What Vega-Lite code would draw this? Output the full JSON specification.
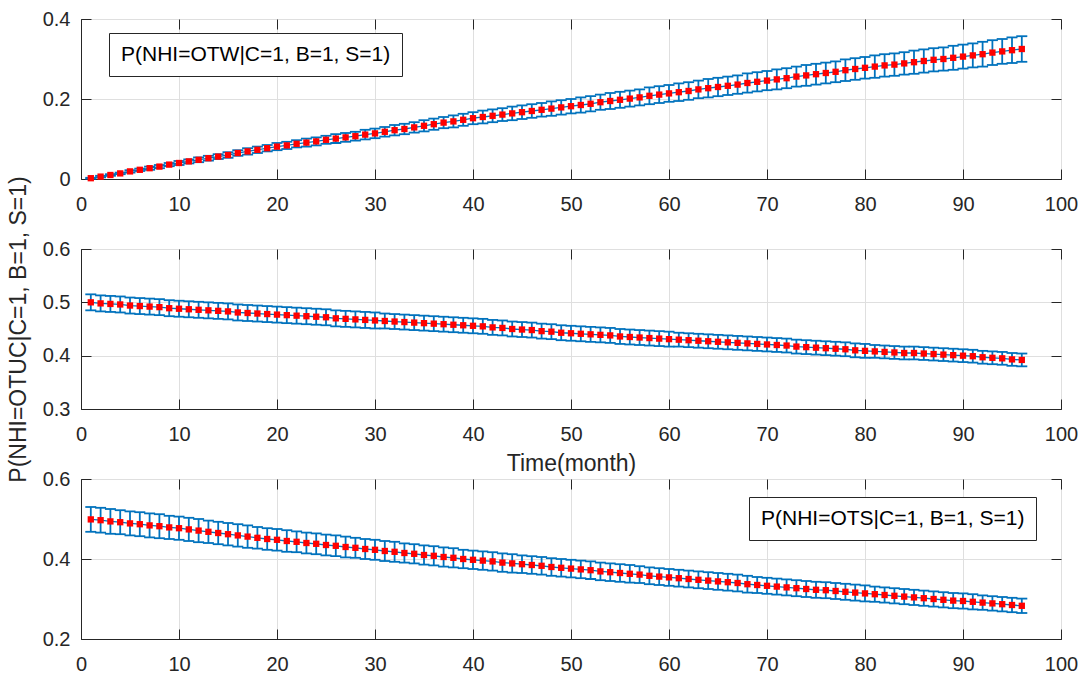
{
  "$schema": "https://vega.github.io/schema/vega-lite/v6.json",
  "background": "white",
  "padding": {"left": 6, "top": 8, "right": 5, "bottom": 0},
  "config": {
    "font": "Liberation Sans",
    "view": {"stroke": "#262626", "strokeWidth": 1},
    "axis": {
      "labelFont": "Liberation Sans", "labelFontSize": 20, "labelColor": "#262626",
      "titleFont": "Liberation Sans", "titleFontSize": 23, "titleFontWeight": "normal", "titleColor": "#262626",
      "domainColor": "#262626", "tickColor": "#262626", "gridColor": "#dfdfdf",
      "labelFlush": false, "labelOverlap": false, "tickSize": -10
    },
    "legend": {
      "labelFont": "Liberation Sans", "labelFontSize": 21, "labelColor": "#000000", "labelLimit": 0,
      "symbolSize": 0, "symbolOpacity": 0, "symbolStrokeWidth": 0, "labelOffset": 0,
      "padding": 11, "strokeColor": "#262626", "fillColor": "white"
    }
  },
  "datasets": {
    "p1": [
      {"m":1,"v":0.002,"e":0.001},{"m":2,"v":0.006,"e":0.002},{"m":3,"v":0.010,"e":0.002},{"m":4,"v":0.014,"e":0.002},{"m":5,"v":0.019,"e":0.003},
      {"m":6,"v":0.023,"e":0.003},{"m":7,"v":0.027,"e":0.004},{"m":8,"v":0.031,"e":0.004},{"m":9,"v":0.036,"e":0.004},{"m":10,"v":0.040,"e":0.005},
      {"m":11,"v":0.044,"e":0.005},{"m":12,"v":0.048,"e":0.006},{"m":13,"v":0.052,"e":0.006},{"m":14,"v":0.056,"e":0.006},{"m":15,"v":0.060,"e":0.007},
      {"m":16,"v":0.065,"e":0.007},{"m":17,"v":0.069,"e":0.008},{"m":18,"v":0.073,"e":0.008},{"m":19,"v":0.077,"e":0.008},{"m":20,"v":0.081,"e":0.009},
      {"m":21,"v":0.084,"e":0.009},{"m":22,"v":0.088,"e":0.009},{"m":23,"v":0.091,"e":0.010},{"m":24,"v":0.094,"e":0.010},{"m":25,"v":0.098,"e":0.010},
      {"m":26,"v":0.101,"e":0.011},{"m":27,"v":0.104,"e":0.011},{"m":28,"v":0.107,"e":0.011},{"m":29,"v":0.111,"e":0.012},{"m":30,"v":0.114,"e":0.012},
      {"m":31,"v":0.118,"e":0.012},{"m":32,"v":0.122,"e":0.013},{"m":33,"v":0.125,"e":0.013},{"m":34,"v":0.129,"e":0.013},{"m":35,"v":0.133,"e":0.014},
      {"m":36,"v":0.137,"e":0.014},{"m":37,"v":0.141,"e":0.014},{"m":38,"v":0.144,"e":0.015},{"m":39,"v":0.148,"e":0.015},{"m":40,"v":0.152,"e":0.015},
      {"m":41,"v":0.155,"e":0.016},{"m":42,"v":0.158,"e":0.016},{"m":43,"v":0.161,"e":0.016},{"m":44,"v":0.164,"e":0.017},{"m":45,"v":0.167,"e":0.017},
      {"m":46,"v":0.170,"e":0.017},{"m":47,"v":0.173,"e":0.017},{"m":48,"v":0.176,"e":0.018},{"m":49,"v":0.179,"e":0.018},{"m":50,"v":0.182,"e":0.018},
      {"m":51,"v":0.185,"e":0.019},{"m":52,"v":0.188,"e":0.019},{"m":53,"v":0.192,"e":0.019},{"m":54,"v":0.195,"e":0.020},{"m":55,"v":0.198,"e":0.020},
      {"m":56,"v":0.201,"e":0.020},{"m":57,"v":0.204,"e":0.020},{"m":58,"v":0.208,"e":0.021},{"m":59,"v":0.211,"e":0.021},{"m":60,"v":0.214,"e":0.021},
      {"m":61,"v":0.217,"e":0.022},{"m":62,"v":0.220,"e":0.022},{"m":63,"v":0.224,"e":0.022},{"m":64,"v":0.227,"e":0.023},{"m":65,"v":0.230,"e":0.023},
      {"m":66,"v":0.233,"e":0.023},{"m":67,"v":0.236,"e":0.023},{"m":68,"v":0.240,"e":0.024},{"m":69,"v":0.243,"e":0.024},{"m":70,"v":0.246,"e":0.024},
      {"m":71,"v":0.249,"e":0.025},{"m":72,"v":0.252,"e":0.025},{"m":73,"v":0.256,"e":0.025},{"m":74,"v":0.259,"e":0.026},{"m":75,"v":0.262,"e":0.026},
      {"m":76,"v":0.265,"e":0.026},{"m":77,"v":0.268,"e":0.026},{"m":78,"v":0.272,"e":0.027},{"m":79,"v":0.275,"e":0.027},{"m":80,"v":0.278,"e":0.027},
      {"m":81,"v":0.281,"e":0.028},{"m":82,"v":0.284,"e":0.028},{"m":83,"v":0.286,"e":0.028},{"m":84,"v":0.289,"e":0.028},{"m":85,"v":0.292,"e":0.029},
      {"m":86,"v":0.295,"e":0.029},{"m":87,"v":0.298,"e":0.029},{"m":88,"v":0.300,"e":0.029},{"m":89,"v":0.303,"e":0.030},{"m":90,"v":0.306,"e":0.030},
      {"m":91,"v":0.309,"e":0.030},{"m":92,"v":0.312,"e":0.031},{"m":93,"v":0.316,"e":0.031},{"m":94,"v":0.319,"e":0.031},{"m":95,"v":0.322,"e":0.032},
      {"m":96,"v":0.325,"e":0.032}
    ],
    "p2": [
      {"m":1,"v":0.500,"e":0.015},{"m":2,"v":0.498,"e":0.015},{"m":3,"v":0.497,"e":0.015},{"m":4,"v":0.496,"e":0.015},{"m":5,"v":0.494,"e":0.015},
      {"m":6,"v":0.493,"e":0.015},{"m":7,"v":0.492,"e":0.015},{"m":8,"v":0.491,"e":0.015},{"m":9,"v":0.489,"e":0.015},{"m":10,"v":0.488,"e":0.015},
      {"m":11,"v":0.487,"e":0.015},{"m":12,"v":0.486,"e":0.015},{"m":13,"v":0.485,"e":0.015},{"m":14,"v":0.484,"e":0.015},{"m":15,"v":0.483,"e":0.015},
      {"m":16,"v":0.481,"e":0.015},{"m":17,"v":0.480,"e":0.015},{"m":18,"v":0.479,"e":0.015},{"m":19,"v":0.478,"e":0.015},{"m":20,"v":0.477,"e":0.015},
      {"m":21,"v":0.476,"e":0.015},{"m":22,"v":0.475,"e":0.015},{"m":23,"v":0.474,"e":0.015},{"m":24,"v":0.473,"e":0.015},{"m":25,"v":0.472,"e":0.015},
      {"m":26,"v":0.470,"e":0.015},{"m":27,"v":0.469,"e":0.015},{"m":28,"v":0.468,"e":0.015},{"m":29,"v":0.467,"e":0.015},{"m":30,"v":0.466,"e":0.015},
      {"m":31,"v":0.465,"e":0.014},{"m":32,"v":0.464,"e":0.014},{"m":33,"v":0.463,"e":0.014},{"m":34,"v":0.462,"e":0.014},{"m":35,"v":0.461,"e":0.014},
      {"m":36,"v":0.460,"e":0.014},{"m":37,"v":0.459,"e":0.014},{"m":38,"v":0.458,"e":0.014},{"m":39,"v":0.457,"e":0.014},{"m":40,"v":0.456,"e":0.014},
      {"m":41,"v":0.455,"e":0.014},{"m":42,"v":0.453,"e":0.014},{"m":43,"v":0.452,"e":0.014},{"m":44,"v":0.450,"e":0.014},{"m":45,"v":0.449,"e":0.014},
      {"m":46,"v":0.448,"e":0.014},{"m":47,"v":0.446,"e":0.014},{"m":48,"v":0.445,"e":0.014},{"m":49,"v":0.443,"e":0.014},{"m":50,"v":0.442,"e":0.014},
      {"m":51,"v":0.441,"e":0.014},{"m":52,"v":0.440,"e":0.014},{"m":53,"v":0.439,"e":0.014},{"m":54,"v":0.438,"e":0.014},{"m":55,"v":0.436,"e":0.014},
      {"m":56,"v":0.435,"e":0.014},{"m":57,"v":0.434,"e":0.014},{"m":58,"v":0.433,"e":0.014},{"m":59,"v":0.432,"e":0.014},{"m":60,"v":0.431,"e":0.014},
      {"m":61,"v":0.430,"e":0.013},{"m":62,"v":0.429,"e":0.013},{"m":63,"v":0.428,"e":0.013},{"m":64,"v":0.427,"e":0.013},{"m":65,"v":0.426,"e":0.013},
      {"m":66,"v":0.425,"e":0.013},{"m":67,"v":0.424,"e":0.013},{"m":68,"v":0.423,"e":0.013},{"m":69,"v":0.422,"e":0.013},{"m":70,"v":0.421,"e":0.013},
      {"m":71,"v":0.420,"e":0.013},{"m":72,"v":0.419,"e":0.013},{"m":73,"v":0.417,"e":0.013},{"m":74,"v":0.416,"e":0.013},{"m":75,"v":0.415,"e":0.013},
      {"m":76,"v":0.414,"e":0.013},{"m":77,"v":0.413,"e":0.013},{"m":78,"v":0.412,"e":0.013},{"m":79,"v":0.410,"e":0.013},{"m":80,"v":0.409,"e":0.013},
      {"m":81,"v":0.408,"e":0.012},{"m":82,"v":0.407,"e":0.012},{"m":83,"v":0.406,"e":0.012},{"m":84,"v":0.405,"e":0.012},{"m":85,"v":0.405,"e":0.012},
      {"m":86,"v":0.404,"e":0.012},{"m":87,"v":0.403,"e":0.012},{"m":88,"v":0.402,"e":0.012},{"m":89,"v":0.401,"e":0.012},{"m":90,"v":0.400,"e":0.012},
      {"m":91,"v":0.399,"e":0.012},{"m":92,"v":0.397,"e":0.012},{"m":93,"v":0.396,"e":0.012},{"m":94,"v":0.395,"e":0.012},{"m":95,"v":0.393,"e":0.012},
      {"m":96,"v":0.392,"e":0.012}
    ],
    "p3": [
      {"m":1,"v":0.499,"e":0.031},{"m":2,"v":0.497,"e":0.031},{"m":3,"v":0.494,"e":0.031},{"m":4,"v":0.492,"e":0.030},{"m":5,"v":0.489,"e":0.030},
      {"m":6,"v":0.487,"e":0.030},{"m":7,"v":0.484,"e":0.030},{"m":8,"v":0.482,"e":0.030},{"m":9,"v":0.479,"e":0.029},{"m":10,"v":0.477,"e":0.029},
      {"m":11,"v":0.474,"e":0.029},{"m":12,"v":0.471,"e":0.029},{"m":13,"v":0.468,"e":0.028},{"m":14,"v":0.465,"e":0.028},{"m":15,"v":0.462,"e":0.028},
      {"m":16,"v":0.459,"e":0.028},{"m":17,"v":0.456,"e":0.028},{"m":18,"v":0.453,"e":0.027},{"m":19,"v":0.450,"e":0.027},{"m":20,"v":0.448,"e":0.027},
      {"m":21,"v":0.445,"e":0.027},{"m":22,"v":0.443,"e":0.026},{"m":23,"v":0.440,"e":0.026},{"m":24,"v":0.438,"e":0.026},{"m":25,"v":0.435,"e":0.026},
      {"m":26,"v":0.433,"e":0.026},{"m":27,"v":0.430,"e":0.026},{"m":28,"v":0.428,"e":0.025},{"m":29,"v":0.425,"e":0.025},{"m":30,"v":0.423,"e":0.025},
      {"m":31,"v":0.420,"e":0.025},{"m":32,"v":0.418,"e":0.025},{"m":33,"v":0.415,"e":0.024},{"m":34,"v":0.413,"e":0.024},{"m":35,"v":0.410,"e":0.024},
      {"m":36,"v":0.408,"e":0.024},{"m":37,"v":0.405,"e":0.024},{"m":38,"v":0.403,"e":0.024},{"m":39,"v":0.400,"e":0.023},{"m":40,"v":0.398,"e":0.023},
      {"m":41,"v":0.396,"e":0.023},{"m":42,"v":0.394,"e":0.023},{"m":43,"v":0.391,"e":0.023},{"m":44,"v":0.389,"e":0.023},{"m":45,"v":0.387,"e":0.022},
      {"m":46,"v":0.385,"e":0.022},{"m":47,"v":0.383,"e":0.022},{"m":48,"v":0.380,"e":0.022},{"m":49,"v":0.378,"e":0.022},{"m":50,"v":0.376,"e":0.022},
      {"m":51,"v":0.374,"e":0.022},{"m":52,"v":0.372,"e":0.022},{"m":53,"v":0.369,"e":0.022},{"m":54,"v":0.367,"e":0.022},{"m":55,"v":0.365,"e":0.022},
      {"m":56,"v":0.363,"e":0.022},{"m":57,"v":0.361,"e":0.021},{"m":58,"v":0.358,"e":0.021},{"m":59,"v":0.356,"e":0.021},{"m":60,"v":0.354,"e":0.021},
      {"m":61,"v":0.352,"e":0.021},{"m":62,"v":0.350,"e":0.021},{"m":63,"v":0.348,"e":0.021},{"m":64,"v":0.346,"e":0.021},{"m":65,"v":0.344,"e":0.021},
      {"m":66,"v":0.342,"e":0.021},{"m":67,"v":0.340,"e":0.021},{"m":68,"v":0.337,"e":0.021},{"m":69,"v":0.335,"e":0.020},{"m":70,"v":0.333,"e":0.020},
      {"m":71,"v":0.331,"e":0.020},{"m":72,"v":0.329,"e":0.020},{"m":73,"v":0.327,"e":0.020},{"m":74,"v":0.325,"e":0.020},{"m":75,"v":0.323,"e":0.020},
      {"m":76,"v":0.322,"e":0.020},{"m":77,"v":0.320,"e":0.020},{"m":78,"v":0.318,"e":0.020},{"m":79,"v":0.316,"e":0.020},{"m":80,"v":0.314,"e":0.020},
      {"m":81,"v":0.312,"e":0.019},{"m":82,"v":0.310,"e":0.019},{"m":83,"v":0.308,"e":0.019},{"m":84,"v":0.306,"e":0.019},{"m":85,"v":0.304,"e":0.019},
      {"m":86,"v":0.302,"e":0.019},{"m":87,"v":0.300,"e":0.019},{"m":88,"v":0.298,"e":0.019},{"m":89,"v":0.296,"e":0.019},{"m":90,"v":0.295,"e":0.019},
      {"m":91,"v":0.293,"e":0.019},{"m":92,"v":0.291,"e":0.018},{"m":93,"v":0.289,"e":0.018},{"m":94,"v":0.287,"e":0.018},{"m":95,"v":0.285,"e":0.018},
      {"m":96,"v":0.283,"e":0.018}
    ]
  },
  "spacing": 70,
  "bounds": "flush",
  "resolve": {"scale": {"color": "independent"}, "legend": {"color": "independent"}},
  "vconcat": [
    {
      "width": 980, "height": 160,
      "data": {"name": "p1"},
      "resolve": {"axis": {"x": "independent", "y": "independent"}},
      "layer": [
        {
          "mark": {"type": "errorbar", "ticks": {"color": "#0072BD", "opacity": 1}, "rule": {"color": "#0072BD", "opacity": 1}, "size": 11, "thickness": 1.8, "color": "#0072BD", "opacity": 1},
          "encoding": {
            "x": {"field": "m", "type": "quantitative", "scale": {"domain": [0, 100], "nice": false},
                  "axis": {"values": [0,10,20,30,40,50,60,70,80,90,100], "title": null, "grid": true, "labelPadding": 25}},
            "y": {"field": "v", "type": "quantitative", "scale": {"domain": [0, 0.4], "nice": false, "zero": false},
                  "axis": {"values": [0, 0.2, 0.4], "format": "~g", "title": null, "grid": true, "labelPadding": 21}},
            "yError": {"field": "e"}
          }
        },
        {
          "mark": {"type": "line", "strokeWidth": 1.3},
          "encoding": {
            "x": {"field": "m", "type": "quantitative",
                  "axis": {"orient": "top", "labels": false, "domain": false, "grid": false, "title": null, "values": [0,10,20,30,40,50,60,70,80,90,100]}},
            "y": {"field": "v", "type": "quantitative",
                  "axis": {"orient": "right", "labels": false, "domain": false, "grid": false, "title": null, "values": [0, 0.2, 0.4]}},
            "color": {"datum": "P(NHI=OTW|C=1, B=1, S=1)", "type": "nominal", "scale": {"range": ["#0072BD"]},
                      "legend": {"title": null, "orient": "none", "legendX": 28, "legendY": 14, "symbolType": "circle", "symbolSize": 0, "symbolStrokeWidth": 0, "labelOffset": -20}}
          }
        },
        {
          "mark": {"type": "point", "shape": "square", "filled": true, "size": 40, "color": "#ff0000", "opacity": 1},
          "encoding": {
            "x": {"field": "m", "type": "quantitative", "axis": null},
            "y": {"field": "v", "type": "quantitative", "axis": null}
          }
        }
      ]
    },
    {
      "width": 980, "height": 160,
      "data": {"name": "p2"},
      "resolve": {"axis": {"x": "independent", "y": "independent"}},
      "layer": [
        {
          "mark": {"type": "errorbar", "ticks": {"color": "#0072BD", "opacity": 1}, "rule": {"color": "#0072BD", "opacity": 1}, "size": 11, "thickness": 1.8, "color": "#0072BD", "opacity": 1},
          "encoding": {
            "x": {"field": "m", "type": "quantitative", "scale": {"domain": [0, 100], "nice": false},
                  "axis": {"values": [0,10,20,30,40,50,60,70,80,90,100], "title": "Time(month)", "titlePadding": 8, "grid": true, "labelPadding": 25}},
            "y": {"field": "v", "type": "quantitative", "scale": {"domain": [0.3, 0.6], "nice": false, "zero": false},
                  "axis": {"values": [0.3, 0.4, 0.5, 0.6], "format": "~g", "title": "P(NHI=OTUC|C=1, B=1, S=1)", "titlePadding": 12, "grid": true, "labelPadding": 21}},
            "yError": {"field": "e"}
          }
        },
        {
          "mark": {"type": "line", "strokeWidth": 1.3, "color": "#0072BD"},
          "encoding": {
            "x": {"field": "m", "type": "quantitative",
                  "axis": {"orient": "top", "labels": false, "domain": false, "grid": false, "title": null, "values": [0,10,20,30,40,50,60,70,80,90,100]}},
            "y": {"field": "v", "type": "quantitative",
                  "axis": {"orient": "right", "labels": false, "domain": false, "grid": false, "title": null, "values": [0.3, 0.4, 0.5, 0.6]}}
          }
        },
        {
          "mark": {"type": "point", "shape": "square", "filled": true, "size": 40, "color": "#ff0000", "opacity": 1},
          "encoding": {
            "x": {"field": "m", "type": "quantitative", "axis": null},
            "y": {"field": "v", "type": "quantitative", "axis": null}
          }
        }
      ]
    },
    {
      "width": 980, "height": 160,
      "data": {"name": "p3"},
      "resolve": {"axis": {"x": "independent", "y": "independent"}},
      "layer": [
        {
          "mark": {"type": "errorbar", "ticks": {"color": "#0072BD", "opacity": 1}, "rule": {"color": "#0072BD", "opacity": 1}, "size": 11, "thickness": 1.8, "color": "#0072BD", "opacity": 1},
          "encoding": {
            "x": {"field": "m", "type": "quantitative", "scale": {"domain": [0, 100], "nice": false},
                  "axis": {"values": [0,10,20,30,40,50,60,70,80,90,100], "title": null, "grid": true, "labelPadding": 25}},
            "y": {"field": "v", "type": "quantitative", "scale": {"domain": [0.2, 0.6], "nice": false, "zero": false},
                  "axis": {"values": [0.2, 0.4, 0.6], "format": "~g", "title": null, "grid": true, "labelPadding": 21}},
            "yError": {"field": "e"}
          }
        },
        {
          "mark": {"type": "line", "strokeWidth": 1.3},
          "encoding": {
            "x": {"field": "m", "type": "quantitative",
                  "axis": {"orient": "top", "labels": false, "domain": false, "grid": false, "title": null, "values": [0,10,20,30,40,50,60,70,80,90,100]}},
            "y": {"field": "v", "type": "quantitative",
                  "axis": {"orient": "right", "labels": false, "domain": false, "grid": false, "title": null, "values": [0.2, 0.4, 0.6]}},
            "color": {"datum": "P(NHI=OTS|C=1, B=1, S=1)", "type": "nominal", "scale": {"range": ["#0072BD"]},
                      "legend": {"title": null, "orient": "none", "legendX": 668, "legendY": 18, "symbolType": "circle", "symbolSize": 0, "symbolStrokeWidth": 0, "labelOffset": -20}}
          }
        },
        {
          "mark": {"type": "point", "shape": "square", "filled": true, "size": 40, "color": "#ff0000", "opacity": 1},
          "encoding": {
            "x": {"field": "m", "type": "quantitative", "axis": null},
            "y": {"field": "v", "type": "quantitative", "axis": null}
          }
        }
      ]
    }
  ]
}
